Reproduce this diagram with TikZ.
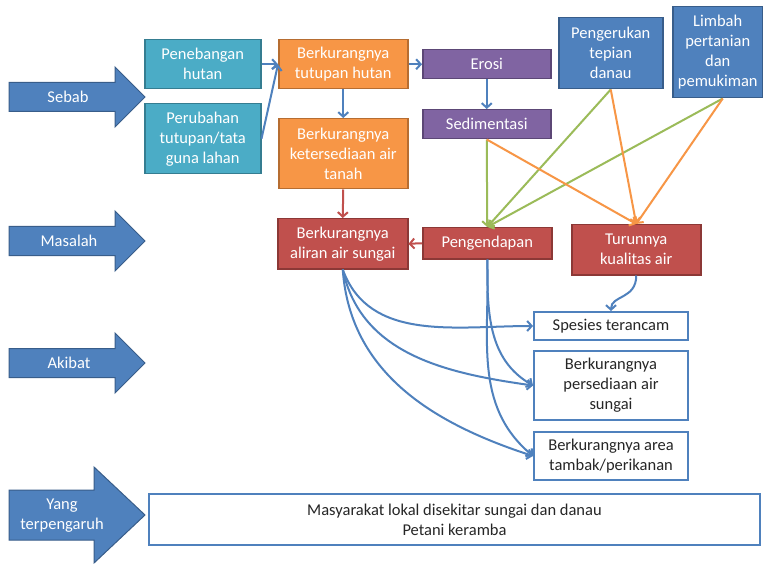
\documentclass[tikz,border=0pt]{standalone}
\usepackage{fontspec}
\setmainfont{Carlito}
\usetikzlibrary{arrows.meta}

\definecolor{tealfill}{HTML}{4BACC6}
\definecolor{tealedge}{HTML}{357D91}
\definecolor{orangefill}{HTML}{F79646}
\definecolor{orangeedge}{HTML}{B66D31}
\definecolor{purplefill}{HTML}{8064A2}
\definecolor{purpleedge}{HTML}{5C4776}
\definecolor{bluefill}{HTML}{4F81BD}
\definecolor{blueedge}{HTML}{385D8A}
\definecolor{redfill}{HTML}{C0504D}
\definecolor{rededge}{HTML}{8C3836}
\definecolor{greenline}{HTML}{9BBB59}
\definecolor{darktext}{HTML}{262626}

% big block arrow on the left: centre y, body half height, head half height, head base x
\newcommand\sidearrow[4]{%
  \draw[bigarrow] (9,#1-#2) -- (#4,#1-#2) -- (#4,#1-#3) -- (145,#1)
    -- (#4,#1+#3) -- (#4,#1+#2) -- (9,#1+#2) -- cycle;}

\begin{document}
\begin{tikzpicture}[x=1pt,y=-1pt,
  font=\fontsize{16.5}{20}\selectfont,
  box/.style={draw, line width=1.5pt, inner sep=0pt, align=center,
    anchor=north west, text=white},
  tealbox/.style={box, fill=tealfill, draw=tealedge},
  orangebox/.style={box, fill=orangefill, draw=orangeedge},
  purplebox/.style={box, fill=purplefill, draw=purpleedge},
  bluebox/.style={box, fill=bluefill, draw=blueedge},
  redbox/.style={box, fill=redfill, draw=rededge},
  whitebox/.style={box, fill=white, draw=bluefill, line width=2pt, text=darktext},
  bigarrow/.style={fill=bluefill, draw=blueedge, line width=1pt},
  armlabel/.style={text=white, align=center},
  tip/.style={-{Straight Barb[length=4.5pt,width=10pt]}},
  blueline/.style={tip, draw=bluefill, line width=2pt},
  redline/.style={tip, draw=redfill, line width=2pt},
  greenlink/.style={tip, draw=greenline, line width=2pt},
  orangelink/.style={tip, draw=orangefill, line width=2pt},
]
\useasboundingbox[fill=white] (0,0) rectangle (763,564);

% row headings
\sidearrow{97}{14.5}{30}{115}
\node[armlabel] (sebab) at (68,97) {Sebab};
\sidearrow{241}{14.5}{30}{115}
\node[armlabel] (masalah) at (69,241) {Masalah};
\sidearrow{363}{14.5}{30}{115}
\node[armlabel] (akibat) at (69,363) {Akibat};
\sidearrow{515}{25}{48}{94}
\node[armlabel] (yang) at (62,516) {Yang\\terpengaruh};

% causes
\node[tealbox, minimum width=116, minimum height=49] (pen) at (144,39) {Penebangan\\hutan};
\node[tealbox, minimum width=116, minimum height=70] (per) at (144,103) {Perubahan\\tutupan/tata\\guna lahan};
\node[orangebox, minimum width=129, minimum height=49] (tut) at (278,39) {Berkurangnya\\tutupan hutan};
\node[orangebox, minimum width=129, minimum height=70] (ket) at (278,118) {Berkurangnya\\ketersediaan air\\tanah};
\node[purplebox, minimum width=128, minimum height=29] (ero) at (422,49) {Erosi};
\node[purplebox, minimum width=128, minimum height=29] (sed) at (422,109) {Sedimentasi};
\node[bluebox, minimum width=104, minimum height=71] (pgk) at (558,17) {Pengerukan\\tepian\\danau};
\node[bluebox, minimum width=90, minimum height=91] (lim) at (672,6) {Limbah\\pertanian\\dan\\pemukiman};

% problems
\node[redbox, minimum width=130, minimum height=50] (ali) at (277,218) {Berkurangnya\\aliran air sungai};
\node[redbox, minimum width=129, minimum height=31] (pgd) at (422,227) {Pengendapan};
\node[redbox, minimum width=129, minimum height=50] (tur) at (571,224) {Turunnya\\kualitas air};

% effects
\node[whitebox, minimum width=154, minimum height=28] (spe) at (533,311) {Spesies terancam};
\node[whitebox, minimum width=154, minimum height=69] (psd) at (533,350) {Berkurangnya\\persediaan air\\sungai};
\node[whitebox, minimum width=154, minimum height=48] (tam) at (533,431) {Berkurangnya area\\tambak/perikanan};

% affected groups
\node[whitebox, minimum width=611, minimum height=51] (mas) at (148,493) {Masyarakat lokal disekitar sungai dan danau\\Petani keramba};

% links between causes
\draw[blueline] (pen.east) -- (tut.west);
\draw[blueline] (per.east) -- (tut.west);
\draw[blueline] (tut.south) -- (ket.north);
\draw[blueline] (tut.east) -- (ero.west);
\draw[blueline] (ero.south) -- (sed.north);
\draw[redline] (ket.south) -- (ali.north);
\draw[redline] (pgd.west) -- (ali.east);

% sediment and pollution links
\draw[greenlink] (sed.south) -- (pgd.north);
\draw[greenlink] (pgk.south) -- (pgd.north);
\draw[greenlink] ([xshift=5]lim.south) -- (pgd.north);
\draw[orangelink] (sed.south) -- (tur.north);
\draw[orangelink] (pgk.south) -- (tur.north);
\draw[orangelink] ([xshift=5]lim.south) -- (tur.north);

% effects of the problems
\draw[blueline] (ali.south) to[out=-70,in=180] (spe.west);
\draw[blueline] (ali.south) to[out=-78,in=172] (psd.west);
\draw[blueline] (ali.south) to[out=-86,in=162] (tam.west);
\draw[blueline] (pgd.south) to[out=-90,in=150] (psd.west);
\draw[blueline] (pgd.south) to[out=-88,in=140] (tam.west);
\draw[blueline] (tur.south) .. controls +(0,24) and +(0,-16) .. (spe.north);
\end{tikzpicture}
\end{document}
